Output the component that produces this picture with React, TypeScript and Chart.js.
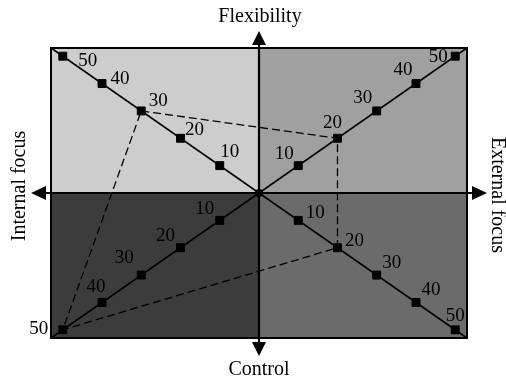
import React, { useEffect, useRef } from "react";
import { Chart, registerables } from "chart.js";

Chart.register(...registerables);

// ---- data ----
const LEVELS = [10, 20, 30, 40, 50];
// quadrant order: top-left, top-right, bottom-right, bottom-left
const QUADRANT_NAMES = ["Flexibility-Internal", "Flexibility-External", "Control-External", "Control-Internal"];
const QUADRANT_SIGNS = [
  [-1, 1],
  [1, 1],
  [1, -1],
  [-1, -1],
];
const PROFILE = [30, 20, 20, 50];
const ORIGIN = [{ x: 0, y: 0 }];
const AXIS_LIMIT = 53;
const TITLE_TOP = "Flexibility";
const TITLE_BOTTOM = "Control";
const TITLE_LEFT = "Internal focus";
const TITLE_RIGHT = "External focus";

// ---- styles ----
const QUADRANT_COLORS = ["#cdcdcd", "#a0a0a0", "#6b6b6b", "#3c3c3c"];
// visual-centre offsets of the level labels relative to their markers (px)
const LABEL_OFFSETS = [
  [[10, -15], [14, -10], [17, -11], [18, -6], [25, 3]],
  [[-14, -13], [-5, -17], [-14, -14], [-13, -15], [-17, -1]],
  [[17, -9], [17, -8], [15, -13], [15, -14], [0, -15]],
  [[-15, -13], [-15, -13], [-17, -18], [-6, -17], [-24, -2]],
];
const SERIF = "'Liberation Serif', 'Times New Roman', serif";

const backgroundPlugin = {
  id: "cvfBackground",
  beforeDatasetsDraw(chart: any) {
    const { ctx, chartArea: a, scales } = chart;
    const cx = scales.x.getPixelForValue(0);
    const cy = scales.y.getPixelForValue(0);
    ctx.save();
    // quadrants
    ctx.fillStyle = QUADRANT_COLORS[0];
    ctx.fillRect(a.left, a.top, cx - a.left, cy - a.top);
    ctx.fillStyle = QUADRANT_COLORS[1];
    ctx.fillRect(cx, a.top, a.right - cx, cy - a.top);
    ctx.fillStyle = QUADRANT_COLORS[2];
    ctx.fillRect(cx, cy, a.right - cx, a.bottom - cy);
    ctx.fillStyle = QUADRANT_COLORS[3];
    ctx.fillRect(a.left, cy, cx - a.left, a.bottom - cy);
    // border
    ctx.strokeStyle = "#000";
    ctx.lineWidth = 2;
    ctx.strokeRect(a.left, a.top, a.right - a.left, a.bottom - a.top);
    // axes
    ctx.lineWidth = 2.2;
    ctx.beginPath();
    ctx.moveTo(a.left - 8, cy);
    ctx.lineTo(a.right + 8, cy);
    ctx.moveTo(cx, a.top - 6);
    ctx.lineTo(cx, a.bottom + 6);
    ctx.stroke();
    // arrowheads
    ctx.fillStyle = "#000";
    const hw = 7;
    ctx.beginPath();
    ctx.moveTo(a.left - 20, cy);
    ctx.lineTo(a.left - 5, cy - hw);
    ctx.lineTo(a.left - 5, cy + hw);
    ctx.closePath();
    ctx.moveTo(a.right + 20, cy);
    ctx.lineTo(a.right + 5, cy - hw);
    ctx.lineTo(a.right + 5, cy + hw);
    ctx.closePath();
    ctx.moveTo(cx, a.top - 17);
    ctx.lineTo(cx - hw, a.top - 3);
    ctx.lineTo(cx + hw, a.top - 3);
    ctx.closePath();
    ctx.moveTo(cx, a.bottom + 18);
    ctx.lineTo(cx - hw, a.bottom + 4);
    ctx.lineTo(cx + hw, a.bottom + 4);
    ctx.closePath();
    ctx.fill();
    ctx.restore();
  },
};

const labelPlugin = {
  id: "cvfLabels",
  afterDatasetsDraw(chart: any) {
    const { ctx, chartArea: a, scales } = chart;
    const cx = scales.x.getPixelForValue(0);
    ctx.save();
    ctx.fillStyle = "#000";
    ctx.textAlign = "center";
    ctx.textBaseline = "alphabetic";
    ctx.font = `19px ${SERIF}`;
    QUADRANT_SIGNS.forEach(([sx, sy], q) => {
      LEVELS.forEach((v, i) => {
        const px = scales.x.getPixelForValue(sx * v);
        const py = scales.y.getPixelForValue(sy * v);
        const [ox, oy] = LABEL_OFFSETS[q][i];
        ctx.fillText(String(v), px + ox, py + oy + 6.4);
      });
    });
    ctx.font = `20px ${SERIF}`;
    ctx.fillText(TITLE_TOP, cx + 1, a.top - 26);
    ctx.fillText(TITLE_BOTTOM, cx, a.bottom + 37);
    ctx.save();
    ctx.translate(a.left - 26, 186);
    ctx.rotate(-Math.PI / 2);
    ctx.fillText(TITLE_LEFT, 0, 0);
    ctx.restore();
    ctx.save();
    ctx.translate(a.right + 25, 195);
    ctx.rotate(Math.PI / 2);
    ctx.fillText(TITLE_RIGHT, 0, 0);
    ctx.restore();
    ctx.restore();
  },
};

export default function App() {
  const canvasRef = useRef<HTMLCanvasElement>(null);

  useEffect(() => {
    if (!canvasRef.current) return;
    const markerPoints = QUADRANT_SIGNS.flatMap(([sx, sy]) =>
      LEVELS.map((v) => ({ x: sx * v, y: sy * v }))
    );
    const profilePoints = PROFILE.map((v, q) => ({
      x: QUADRANT_SIGNS[q][0] * v,
      y: QUADRANT_SIGNS[q][1] * v,
    }));
    profilePoints.push({ ...profilePoints[0] });

    const chart = new Chart(canvasRef.current, {
      type: "scatter",
      data: {
        datasets: [
          {
            label: "Levels",
            data: markerPoints,
            pointStyle: "rect",
            pointRadius: 5.6,
            pointBorderWidth: 1,
            pointBackgroundColor: "#000",
            pointBorderColor: "#000",
            showLine: false,
          } as any,
          {
            label: "Origin",
            data: ORIGIN,
            pointStyle: "circle",
            pointRadius: 4,
            pointBorderWidth: 0,
            pointBackgroundColor: "#000",
            showLine: false,
          } as any,
          {
            label: "Profile",
            data: profilePoints,
            showLine: true,
            borderColor: "#000",
            borderWidth: 1.3,
            borderDash: [8, 4],
            pointRadius: 0,
            fill: false,
          },
          {
            label: "Diagonal 1",
            data: [
              { x: -AXIS_LIMIT, y: AXIS_LIMIT },
              { x: AXIS_LIMIT, y: -AXIS_LIMIT },
            ],
            showLine: true,
            borderColor: "#000",
            borderWidth: 1.8,
            pointRadius: 0,
          },
          {
            label: "Diagonal 2",
            data: [
              { x: -AXIS_LIMIT, y: -AXIS_LIMIT },
              { x: AXIS_LIMIT, y: AXIS_LIMIT },
            ],
            showLine: true,
            borderColor: "#000",
            borderWidth: 1.8,
            pointRadius: 0,
          },
        ],
      },
      options: {
        animation: false,
        responsive: false,
        events: [],
        layout: { padding: { left: 51, right: 39, top: 48, bottom: 41 } },
        scales: {
          x: { type: "linear", min: -AXIS_LIMIT, max: AXIS_LIMIT, display: false },
          y: { type: "linear", min: -AXIS_LIMIT, max: AXIS_LIMIT, display: false },
        },
        plugins: {
          legend: { display: false },
          tooltip: { enabled: false },
        },
      },
      plugins: [backgroundPlugin, labelPlugin],
    });
    return () => chart.destroy();
  }, []);

  return (
    <div style={{ position: "absolute", left: 0, top: 0, width: 506, height: 379, background: "#fff" }}>
      <canvas ref={canvasRef} width={506} height={379} aria-label={QUADRANT_NAMES.join(", ")} />
    </div>
  );
}
